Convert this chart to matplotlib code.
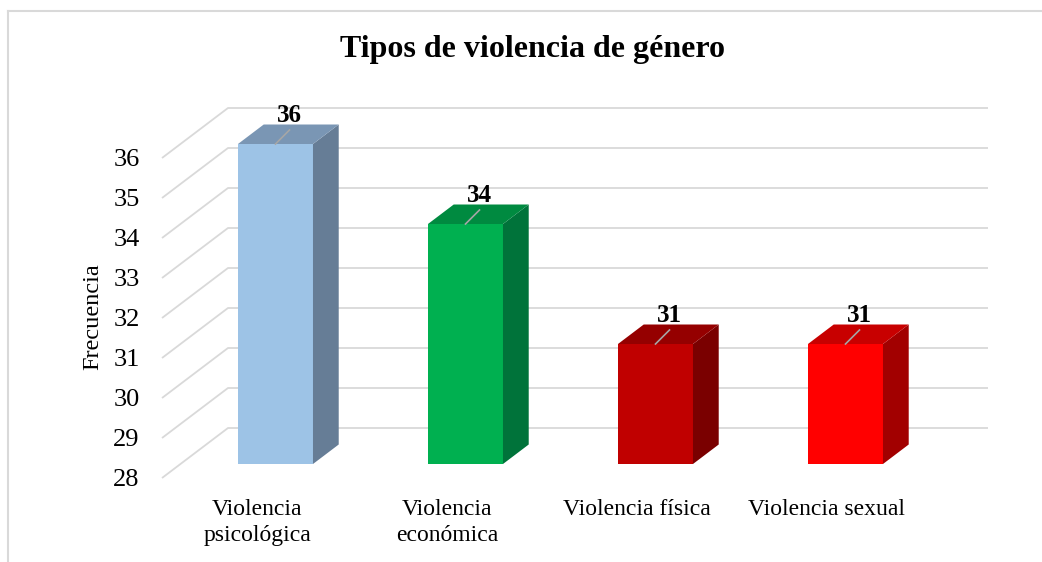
import matplotlib
matplotlib.use("Agg")
import matplotlib.pyplot as plt
from matplotlib.patches import Polygon
from matplotlib.lines import Line2D

# ---- data ----
categories = ["Violencia\npsicológica", "Violencia\neconómica", "Violencia física", "Violencia sexual"]
values = [36, 34, 31, 31]
yticks = [28, 29, 30, 31, 32, 33, 34, 35, 36]
title = "Tipos de violencia de género"
ylabel = "Frecuencia"

front_colors = ["#9DC3E6", "#00B050", "#C00000", "#FF0000"]
top_colors = ["#7A96B4", "#008A40", "#950000", "#C80000"]
side_colors = ["#667D96", "#00733A", "#7A0000", "#A20000"]

plt.rcParams['font.family'] = ['Liberation Serif', 'DejaVu Serif']

W, H = 1042, 562
fig = plt.figure(figsize=(W / 100, H / 100), dpi=100)
fig.patch.set_facecolor("white")

# axes mapped so that the front plane matches the reference
left_px, right_px, top_px, bottom_px = 162, 1000, 100, 478
ax = fig.add_axes([left_px / W, (H - bottom_px) / H,
                   (right_px - left_px) / W, (bottom_px - top_px) / H])
ymin = 28
ax.set_xlim(0, (right_px - left_px) / 190)
ax.set_ylim(ymin, ymin + (bottom_px - top_px) / 40)
for s in ax.spines.values():
    s.set_visible(False)
ax.set_facecolor("none")

# oblique depth offsets (x in category units, y in value units)
ox, oy = 66 / 190, 1.25
grid_c = "#D9D9D9"
n = len(categories)

# back wall + side wall gridlines
for v in yticks:
    ax.plot([0, ox, n + ox], [v, v + oy, v + oy], color=grid_c, lw=1.3,
            solid_capstyle="butt", clip_on=False, zorder=1)

# bars
w = 75 / 190
d0, dd = 0.28, 0.39
for i, (v, fc, tc, sc) in enumerate(zip(values, front_colors, top_colors, side_colors)):
    cx = i + 0.5 + d0 * ox
    a, b = cx - w / 2, cx + w / 2
    yb, yt = ymin + d0 * oy, v + d0 * oy
    dx, dy = dd * ox, dd * oy
    ax.bar(cx, yt - yb, width=w, bottom=yb, color=fc, zorder=3, clip_on=False)
    ax.add_patch(Polygon([(b, yb), (b + dx, yb + dy), (b + dx, yt + dy), (b, yt)],
                         closed=True, facecolor=sc, edgecolor="none", zorder=3, clip_on=False))
    ax.add_patch(Polygon([(a, yt), (b, yt), (b + dx, yt + dy), (a + dx, yt + dy)],
                         closed=True, facecolor=tc, edgecolor="none", zorder=3, clip_on=False))
    # leader line and data label
    lx, ly = 14 / 190, 14 / 40
    ax.plot([cx, cx + lx], [yt, yt + ly], color="#A6A6A6", lw=1.2, zorder=4, clip_on=False)
    ax.text(cx + lx, yt + ly + 0.2, str(v), ha="center", va="baseline",
            fontsize=18, fontweight="bold", color="black", zorder=5)

# axis ticks / labels
ax.set_yticks(yticks)
ax.set_yticklabels([str(t) for t in yticks], fontsize=19)
ax.tick_params(axis="y", length=0, pad=16)
ax.set_xticks([i + 0.5 for i in range(n)])
ax.set_xticklabels(categories, fontsize=17, linespacing=1.3)
ax.tick_params(axis="x", length=0, pad=15)

fig.text(93 / W, 1 - 317 / H, ylabel, rotation=90, ha="center", va="center", fontsize=17.5)
fig.text(533 / W, 1 - 50 / H, title, ha="center", va="center", fontsize=23, fontweight="bold")

# chart area border (left and top edges visible)
fig.add_artist(Line2D([8 / W, 8 / W], [0, 1 - 11 / H], color=grid_c, lw=1.5))
fig.add_artist(Line2D([8 / W, 1], [1 - 11 / H, 1 - 11 / H], color=grid_c, lw=1.5))

fig.savefig("out.png", dpi=100, facecolor="white")
